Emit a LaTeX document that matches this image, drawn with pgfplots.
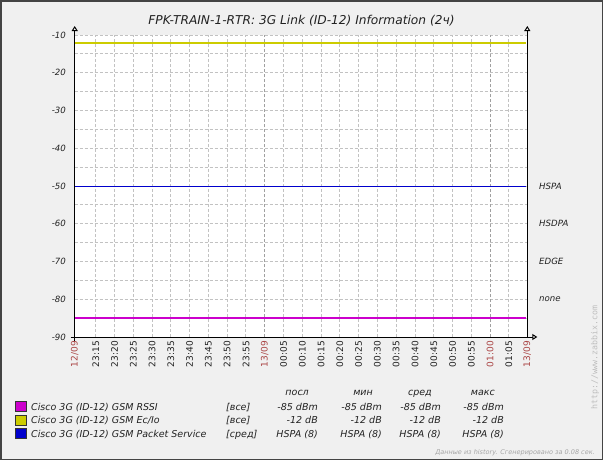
\documentclass[border=0pt]{standalone}
\usepackage{pgfplots}
\pgfplotsset{compat=1.18}
\usepackage{fontspec}
\setmainfont{DejaVu Sans}
\newfontfamily\dvmono{DejaVu Sans Mono}
\usetikzlibrary{arrows.meta}
\definecolor{bg}{HTML}{F0F0F0}
\definecolor{frame}{HTML}{444444}
\definecolor{gridc}{HTML}{C2C2C2}
\definecolor{gridd}{HTML}{A0A0A0}
\definecolor{cyel}{HTML}{CCCC00}
\definecolor{cmag}{HTML}{CC00CC}
\definecolor{cblu}{HTML}{0000CC}
\definecolor{dred}{HTML}{AA4444}
\definecolor{txt}{HTML}{222222}
\newcommand{\fs}[1]{\fontsize{#1bp}{#1bp}\selectfont}
\begin{document}
\begin{tikzpicture}
\path[use as bounding box] (0,0) rectangle (603bp,-460bp);
\fill[bg] (0,0) rectangle (603bp,-460bp);
\draw[frame, line width=1.5bp] (0.75bp,-0.75bp) rectangle (602.25bp,-459.25bp);
\node[anchor=base, font=\fs{12.2}\itshape, text=txt, inner sep=0pt] at (301.5bp,-24bp) {FPK-TRAIN-1-RTR: 3G Link (ID-12) Information (2ч)};
\begin{axis}[
  at={(74.7bp,-337bp)}, anchor=south west,
  scale only axis, width=452.6bp, height=302bp,
  xmin=-50.6, xmax=69.9, ymin=-90, ymax=-10,
  axis background/.style={fill=white},
  axis line style={draw=none},
  xtick={-45,-40,-35,-30,-25,-20,-15,-10,-5,0,5,10,15,20,25,30,35,40,45,50,55,60,65},
  xticklabels={23:15,23:20,23:25,23:30,23:35,23:40,23:45,23:50,23:55,\textcolor{dred}{13/09},00:05,00:10,00:15,00:20,00:25,00:30,00:35,00:40,00:45,00:50,00:55,\textcolor{dred}{01:00},01:05},
  extra x ticks={-50.6,69.9},
  extra x tick labels={\textcolor{dred}{12/09},\textcolor{dred}{13/09}},
  extra x tick style={grid=none},
  ytick={-90,-80,-70,-60,-50,-40,-30,-20,-10},
  minor ytick={-85,-75,-65,-55,-45,-35,-25,-15},
  /pgf/number format/assume math mode=true,
  grid=both,
  major grid style={gridc, line width=1bp, dash pattern=on 3bp off 2bp},
  minor grid style={gridc, line width=1bp, dash pattern=on 3bp off 2bp},
  major tick length=0pt, minor tick length=0pt,
  xticklabel style={font=\fs{9}, text=txt, inner sep=0pt, yshift=-4bp, rotate=90, anchor=east},
  yticklabel style={font=\fs{8.6}\itshape, text=txt, inner sep=0pt, xshift=-8.7bp, anchor=east},
  clip=false,
]
\draw[gridd, line width=1bp, dash pattern=on 3bp off 2bp] (axis cs:0,-90) -- (axis cs:0,-10);
\draw[gridd, line width=1bp, dash pattern=on 3bp off 2bp] (axis cs:60,-90) -- (axis cs:60,-10);
\addplot[cyel, line width=2bp] coordinates {(-50.6,-12) (69.6,-12)};
\addplot[cblu, line width=1bp] coordinates {(-50.6,-50) (69.6,-50)};
\addplot[cmag, line width=2bp] coordinates {(-50.6,-85) (69.6,-85)};
\draw[black, line width=1bp, -{Triangle[fill=white, length=5bp, width=6bp]}] ([yshift=-4bp]rel axis cs:0,0) -- ([yshift=9bp]rel axis cs:0,1);
\draw[black, line width=1bp, -{Triangle[fill=white, length=5bp, width=6bp]}] ([yshift=0bp]rel axis cs:1,0) -- ([yshift=9bp]rel axis cs:1,1);
\draw[black, line width=1bp, -{Triangle[fill=white, length=5bp, width=6bp]}] ([xshift=-4bp]rel axis cs:0,0) -- ([xshift=10bp]rel axis cs:1,0);
\node[anchor=west, font=\fs{8.6}\itshape, text=txt, inner sep=0pt] at ([xshift=11.7bp]axis cs:69.9,-50) {HSPA};
\node[anchor=west, font=\fs{8.6}\itshape, text=txt, inner sep=0pt] at ([xshift=11.7bp]axis cs:69.9,-60) {HSDPA};
\node[anchor=west, font=\fs{8.6}\itshape, text=txt, inner sep=0pt] at ([xshift=11.7bp]axis cs:69.9,-70) {EDGE};
\node[anchor=west, font=\fs{8.6}\itshape, text=txt, inner sep=0pt] at ([xshift=11.7bp]axis cs:69.9,-80) {none};
\end{axis}
% legend
\begin{scope}[every node/.style={font=\fs{9.5}\itshape, text=txt, inner sep=0pt}]
\node[anchor=base east] at (309bp,-395.5bp) {посл};
\node[anchor=base east] at (373bp,-395.5bp) {мин};
\node[anchor=base east] at (432bp,-395.5bp) {сред};
\node[anchor=base east] at (495bp,-395.5bp) {макс};
\filldraw[fill=cmag, draw=black!80, line width=0.8bp] (15bp,-401.5bp) rectangle (26bp,-411.5bp);
\filldraw[fill=cyel, draw=black!80, line width=0.8bp] (15bp,-415bp) rectangle (26bp,-425bp);
\filldraw[fill=cblu, draw=black!80, line width=0.8bp] (15bp,-428.5bp) rectangle (26bp,-438.5bp);
\node[anchor=base west] at (31bp,-410bp) {Cisco 3G (ID-12) GSM RSSI};
\node[anchor=base west] at (31bp,-423.5bp) {Cisco 3G (ID-12) GSM Ec/Io};
\node[anchor=base west] at (31bp,-437bp) {Cisco 3G (ID-12) GSM Packet Service};
\node[anchor=base west] at (226bp,-410bp) {[все]};
\node[anchor=base west] at (226bp,-423.5bp) {[все]};
\node[anchor=base west] at (226bp,-437bp) {[сред]};
\node[anchor=base east] at (318bp,-410bp) {-85 dBm};
\node[anchor=base east] at (382bp,-410bp) {-85 dBm};
\node[anchor=base east] at (441bp,-410bp) {-85 dBm};
\node[anchor=base east] at (504bp,-410bp) {-85 dBm};
\node[anchor=base east] at (318bp,-423.5bp) {-12 dB};
\node[anchor=base east] at (382bp,-423.5bp) {-12 dB};
\node[anchor=base east] at (441bp,-423.5bp) {-12 dB};
\node[anchor=base east] at (504bp,-423.5bp) {-12 dB};
\node[anchor=base east] at (318bp,-437bp) {HSPA (8)};
\node[anchor=base east] at (382bp,-437bp) {HSPA (8)};
\node[anchor=base east] at (441bp,-437bp) {HSPA (8)};
\node[anchor=base east] at (504bp,-437bp) {HSPA (8)};
\end{scope}
\node[rotate=90, anchor=center, font=\dvmono\fs{8.3}, text=black!25, inner sep=0pt] at (595bp,-357.5bp) {http://www.zabbix.com};
\node[anchor=base east, font=\fs{6.5}\itshape, text=black!35, inner sep=0pt] at (595bp,-454.5bp) {Данные из history. Сгенерировано за 0.08 сек.};
\end{tikzpicture}
\end{document}
